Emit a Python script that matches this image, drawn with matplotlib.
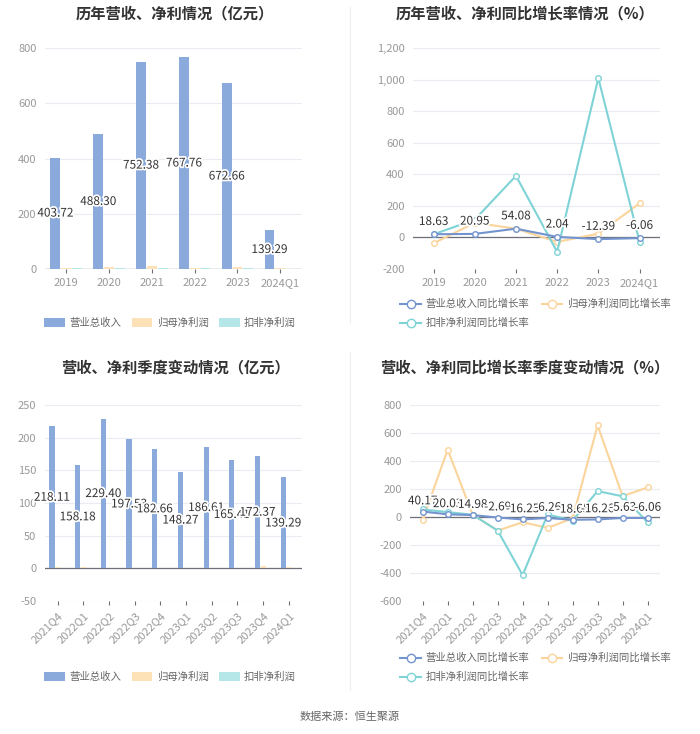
import numpy as np
import matplotlib
matplotlib.use("Agg")
import matplotlib.pyplot as plt
import matplotlib.patheffects as pe
from matplotlib.lines import Line2D
from matplotlib.patches import Patch

plt.rcParams['font.family'] = ['Noto Sans CJK SC', 'DejaVu Sans']

''' Data '''
years = ["2019", "2020", "2021", "2022", "2023", "2024Q1"]
rev_year = [403.72, 488.30, 752.38, 767.76, 672.66, 139.29]
np_year = [2.5, 5.0, 8.0, 4.0, 6.0, 1.5]
dnp_year = [1.0, 2.0, 3.0, 1.0, 3.0, 0.5]

rev_yoy = [18.63, 20.95, 54.08, 2.04, -12.39, -6.06]
np_yoy = [-39, 92, 54, -30, 22, 215]
dnp_yoy = [18, 112, 390, -93, 1012, -28]

quarters = ["2021Q4", "2022Q1", "2022Q2", "2022Q3", "2022Q4",
            "2023Q1", "2023Q2", "2023Q3", "2023Q4", "2024Q1"]
rev_q = [218.11, 158.18, 229.40, 197.53, 182.66, 148.27, 186.61, 165.41, 172.37, 139.29]
np_q = [2.0, 3.0, 1.0, 0.5, 1.0, 0.5, 1.0, 1.0, 4.0, 3.0]
dnp_q = [0.5, 1.0, 0.8, 0.3, 0.5, 0.5, 0.8, 0.6, 1.5, 1.0]

rev_q_yoy = [40.17, 20.03, 14.98, -2.69, -16.25, -6.26, -18.65, -16.26, -5.63, -6.06]
np_q_yoy = [-19, 482, 18, -96, -36, -77, -8, 655, 150, 212]
dnp_q_yoy = [55, 36, 17, -96, -414, 19, -24, 186, 149, -36]

C_REV = "#8aaadb"
C_NP = "#fde2b8"
C_DNP = "#b5e6e8"
L_REV = "#7394cf"
L_NP = "#fbd49c"
L_DNP = "#7fd3d6"
TICK = "#999999"

fig = plt.figure(figsize=(7.0, 7.34), dpi=100)
halo = [pe.withStroke(linewidth=2.5, foreground="white")]


def style_axes(ax, ylim, yticks, fmt=lambda v: f"{v:g}"):
    ax.set_ylim(*ylim)
    ax.set_yticks(yticks)
    ax.set_yticklabels([fmt(v) for v in yticks], color=TICK, fontsize=8)
    ax.grid(axis="y", color="#e9ecf2", linewidth=0.8)
    ax.set_axisbelow(True)
    for s in ["top", "right", "left", "bottom"]:
        ax.spines[s].set_visible(False)
    ax.axhline(0, color="#6e7079", linewidth=0.9, zorder=2)
    ax.tick_params(axis="y", length=0, pad=6)
    ax.tick_params(axis="x", length=3, color="#6e7079", labelcolor=TICK, labelsize=8)


def set_cats(ax, cats, rot):
    x = np.arange(len(cats))
    ax.set_xlim(-0.5, len(cats) - 0.5)
    ax.set_xticks(x)
    if rot:
        ax.set_xticklabels(cats, rotation=45, ha="right", rotation_mode="anchor")
    else:
        ax.set_xticklabels(cats)


def bar_panel(ax, cats, rev, npv, dnp, w, ylim, yticks, rot):
    x = np.arange(len(cats))
    ax.bar(x - w * 1.1, rev, w, color=C_REV, zorder=3)
    ax.bar(x, npv, w, color=C_NP, zorder=3)
    ax.bar(x + w * 1.1, dnp, w, color=C_DNP, zorder=3)
    for xi, v in zip(x, rev):
        ax.text(xi - w * 1.1, v / 2, f"{v:.2f}", ha="center", va="center",
                fontsize=8.5, color="#333333", path_effects=halo, zorder=5)
    style_axes(ax, ylim, yticks)
    set_cats(ax, cats, rot)


def line_panel(ax, cats, rev, npv, dnp, ylim, yticks, rot, fmt, dy):
    x = np.arange(len(cats))
    kw = dict(marker="o", markersize=4, markerfacecolor="white", linewidth=1.5, zorder=4)
    ax.plot(x, npv, color=L_NP, **kw)
    ax.plot(x, dnp, color=L_DNP, **kw)
    ax.plot(x, rev, color=L_REV, **kw)
    for xi, v in zip(x, rev):
        ax.text(xi, v + dy, f"{v:.2f}", ha="center", va="bottom",
                fontsize=8.5, color="#333333", path_effects=halo, zorder=6)
    style_axes(ax, ylim, yticks, fmt)
    set_cats(ax, cats, rot)


comma = lambda v: f"{v:,.0f}"

ax1 = fig.add_axes([0.064, 0.634, 0.367, 0.300])
bar_panel(ax1, years, rev_year, np_year, dnp_year, 0.23, (0, 800), [0, 200, 400, 600, 800], False)

ax2 = fig.add_axes([0.590, 0.634, 0.353, 0.300])
line_panel(ax2, years, rev_yoy, np_yoy, dnp_yoy, (-200, 1200),
           [-200, 0, 200, 400, 600, 800, 1000, 1200], False, comma, 40)

ax3 = fig.add_axes([0.064, 0.181, 0.367, 0.267])
bar_panel(ax3, quarters, rev_q, np_q, dnp_q, 0.2, (-50, 250), [-50, 0, 50, 100, 150, 200, 250], True)

ax4 = fig.add_axes([0.586, 0.181, 0.357, 0.267])
line_panel(ax4, quarters, rev_q_yoy, np_q_yoy, dnp_q_yoy, (-600, 800),
           [-600, -400, -200, 0, 200, 400, 600, 800], True, comma, 30)

# titles
title_kw = dict(ha="center", va="center", fontsize=11, fontweight="bold", color="#333333")
fig.text(0.25, 0.982, "历年营收、净利情况（亿元）", **title_kw)
fig.text(0.75, 0.982, "历年营收、净利同比增长率情况（%）", **title_kw)
fig.text(0.25, 0.500, "营收、净利季度变动情况（亿元）", **title_kw)
fig.text(0.75, 0.500, "营收、净利同比增长率季度变动情况（%）", **title_kw)

# divider
fig.add_artist(Line2D([0.5, 0.5], [0.56, 0.99], color="#eeeeee", linewidth=0.8))
fig.add_artist(Line2D([0.5, 0.5], [0.06, 0.52], color="#eeeeee", linewidth=0.8))

# legends
bar_handles = [Patch(facecolor=C_REV), Patch(facecolor=C_NP), Patch(facecolor=C_DNP)]
bar_labels = ["营业总收入", "归母净利润", "扣非净利润"]
line_handles = [Line2D([], [], color=c, marker="o", markersize=6, markerfacecolor="white", linewidth=1.5)
                for c in (L_REV, L_NP, L_DNP)]
line_labels = ["营业总收入同比增长率", "归母净利润同比增长率", "扣非净利润同比增长率"]

for yb in (1 - 323 / 734, 1 - 677 / 734):
    fig.legend(bar_handles, bar_labels, loc="center", bbox_to_anchor=(0.243, yb), ncol=3,
               frameon=False, fontsize=7.5, labelcolor="#666666", handlelength=2.0,
               handleheight=1.0, columnspacing=1.0, handletextpad=0.4)

for yt, yb2 in ((1 - 304 / 734, 1 - 323 / 734), (1 - 658 / 734, 1 - 677 / 734)):
    fig.legend(line_handles[:2], line_labels[:2], loc="center left", bbox_to_anchor=(0.572, yt), ncol=2,
               frameon=False, fontsize=7.5, labelcolor="#666666", handlelength=2.0,
               columnspacing=1.2, handletextpad=0.4, borderaxespad=0, borderpad=0)
    fig.legend(line_handles[2:], line_labels[2:], loc="center left", bbox_to_anchor=(0.572, yb2), ncol=1,
               frameon=False, fontsize=7.5, labelcolor="#666666", handlelength=2.0,
               handletextpad=0.4, borderaxespad=0, borderpad=0)

fig.text(0.5, 1 - 717 / 734, "数据来源：恒生聚源", ha="center", va="center", fontsize=8, color="#666666")

fig.savefig("out.png", dpi=100, facecolor="white")
